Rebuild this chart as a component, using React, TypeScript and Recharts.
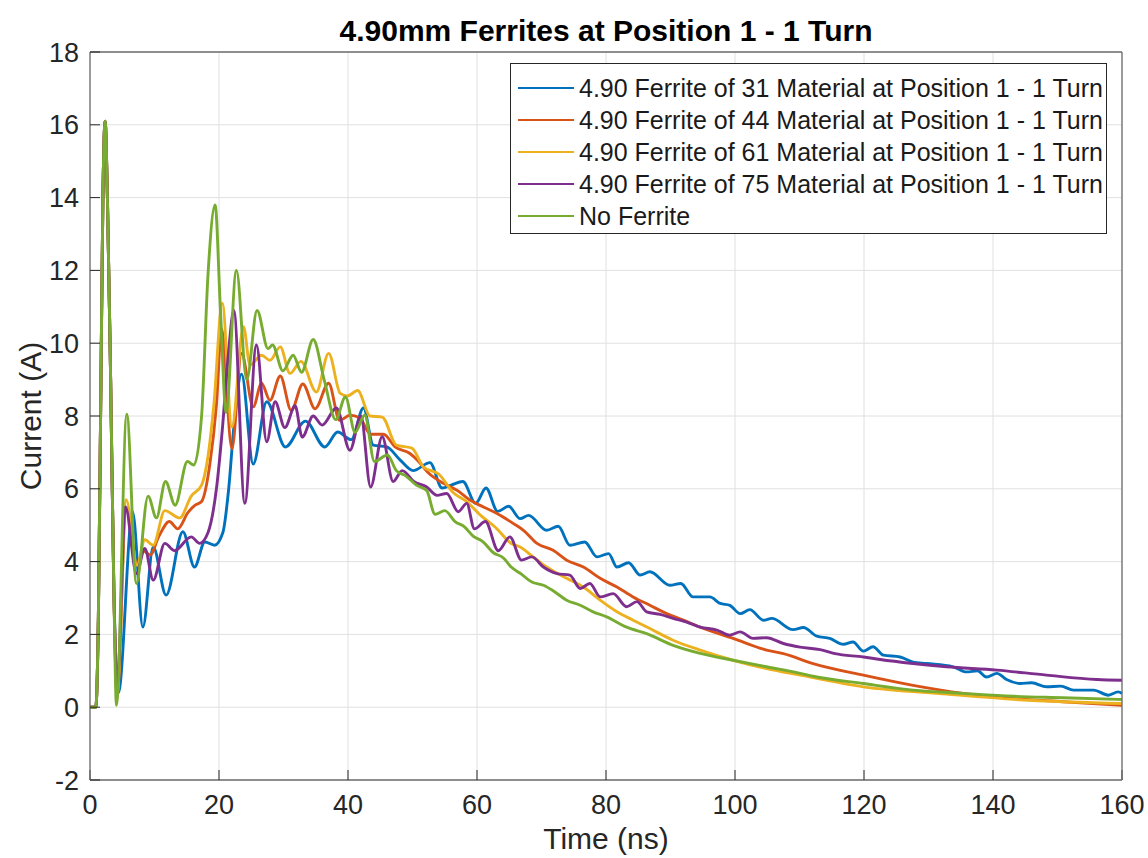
import React from "react";
import { LineChart, Line, XAxis, YAxis, CartesianGrid, Legend } from "recharts";

const FONT = '"Liberation Sans", Arial, Helvetica, sans-serif';

// time (ns) / current (A) pairs
const ferrite31: [number, number][] = [
  [0, 0], [0.9, 0], [1.3, 2.5], [1.7, 9], [2.0, 14], [2.35, 16.1], [2.7, 14], [3.2, 9], [3.7, 3.2],
  [4.4, 0.4], [6.6, 5.37], [8.2, 2.2], [9.8, 4.4], [11.8, 3.08], [14.4, 4.82], [16.2, 3.85],
  [17.8, 4.54], [19.3, 4.45], [20.6, 4.8], [21.5, 6.0], [22.3, 7.7], [23.5, 9.15], [25.3, 6.68],
  [27.4, 8.39], [30.3, 7.15], [33.4, 7.86], [36.4, 7.15], [38.4, 7.56], [40.5, 7.35], [42.4, 8.22],
  [43.9, 7.2], [46.0, 7.15], [48.1, 6.79], [50.1, 6.5], [52.7, 6.72], [54.6, 6.02], [56.0, 6.1],
  [57.8, 6.2], [59.8, 5.6], [61.4, 6.02], [63.2, 5.38], [64.9, 5.52], [66.7, 5.18], [68.0, 5.27],
  [70.8, 4.86], [72.6, 4.97], [74.4, 4.45], [76.7, 4.54], [78.6, 4.13], [80.4, 4.22], [81.7, 3.85],
  [83.5, 3.97], [85.3, 3.63], [86.8, 3.72], [89.9, 3.35], [91.6, 3.4], [93.5, 3.03], [96.1, 3.03],
  [97.7, 2.85], [99.2, 2.8], [100.8, 2.57], [102.3, 2.68], [104.4, 2.39], [105.7, 2.44], [109.0, 2.13],
  [110.6, 2.19], [112.7, 1.95], [114.7, 1.89], [116.8, 1.73], [118.3, 1.79], [119.9, 1.54], [121.4, 1.66],
  [123.0, 1.43], [125.6, 1.38], [127.6, 1.24], [129.7, 1.2], [133.8, 1.11], [135.9, 0.97], [137.6, 1.0],
  [139.0, 0.83], [140.6, 0.93], [142.1, 0.76], [144.2, 0.65], [146.0, 0.67], [148.3, 0.56], [150.5, 0.58],
  [152.5, 0.47], [155.6, 0.47], [157.9, 0.33], [159.4, 0.42], [160, 0.38],
];

const ferrite44: [number, number][] = [
  [0, 0], [0.9, 0], [1.3, 2.5], [1.7, 9], [2.0, 14], [2.35, 16.1], [2.7, 14], [3.2, 9], [3.7, 3.2],
  [4.2, 0.3], [5.6, 5.45], [7.3, 3.9], [8.3, 4.3], [9.3, 4.18], [10.7, 4.7], [12.3, 5.1], [13.6, 4.9],
  [15.2, 5.35], [16.3, 5.55], [17.3, 5.65], [18.6, 6.7], [19.6, 8.3], [20.4, 10.4], [22.0, 7.1],
  [23.5, 9.72], [25.3, 8.25], [26.6, 8.9], [27.9, 8.43], [29.5, 9.1], [31.2, 8.15], [33.0, 8.88],
  [34.9, 8.2], [37.0, 8.9], [38.7, 7.88], [40.3, 8.02], [41.8, 7.95], [43.5, 7.5], [45.5, 7.5],
  [47.3, 7.15], [49.6, 6.97], [50.8, 6.78], [52.4, 6.45], [54.8, 6.15], [56.9, 5.96], [58.9, 5.69],
  [61.0, 5.5], [63.1, 5.32], [65.6, 5.05], [67.2, 4.86], [69.3, 4.5], [71.8, 4.31], [73.9, 4.04],
  [76.5, 3.85], [79.1, 3.54], [81.7, 3.3], [84.2, 3.03], [86.8, 2.8], [89.4, 2.57], [92.0, 2.39],
  [94.6, 2.2], [99.7, 1.89], [104.9, 1.57], [107.5, 1.47], [112.1, 1.2], [119.9, 0.88], [127.6, 0.6],
  [135.4, 0.38], [143.1, 0.24], [150.9, 0.15], [160, 0.05],
];

const ferrite61: [number, number][] = [
  [0, 0], [0.9, 0], [1.3, 2.5], [1.7, 9], [2.0, 14], [2.35, 16.1], [2.7, 14], [3.2, 9], [3.7, 3.2],
  [4.2, 0.35], [5.6, 5.7], [7.3, 3.9], [8.5, 4.6], [9.8, 4.45], [11.6, 5.4], [13.9, 5.2], [15.7, 5.8],
  [17.3, 6.1], [18.3, 6.9], [19.2, 8.3], [20.5, 11.1], [22.0, 7.7], [23.8, 10.45], [24.8, 9.4],
  [26.6, 9.67], [27.9, 9.53], [29.5, 9.9], [31.0, 9.17], [32.7, 9.5], [35.1, 8.66], [37.0, 9.72],
  [38.8, 8.62], [39.9, 8.55], [41.5, 8.7], [43.4, 8.0], [45.3, 7.97], [47.5, 7.2], [49.9, 7.12],
  [51.7, 6.6], [54.1, 6.4], [56.3, 5.9], [58.4, 5.65], [60.7, 5.25], [62.8, 4.95], [65.3, 4.5],
  [66.7, 4.4], [68.7, 4.13], [70.8, 3.85], [73.9, 3.54], [76.5, 3.3], [79.1, 2.94], [81.7, 2.62],
  [84.2, 2.39], [86.8, 2.16], [90.4, 1.84], [94.6, 1.57], [99.7, 1.29], [104.9, 1.06], [110.1, 0.88],
  [119.9, 0.56], [132.8, 0.36], [145.7, 0.19], [160, 0.1],
];

const ferrite75: [number, number][] = [
  [0, 0], [0.9, 0], [1.3, 2.5], [1.7, 9], [2.0, 14], [2.35, 16.1], [2.7, 14], [3.2, 9], [3.7, 3.2],
  [4.2, 0.6], [5.5, 5.5], [7.2, 3.67], [8.5, 4.36], [9.8, 3.49], [11.6, 4.5], [13.1, 4.3], [15.7, 4.68],
  [17.0, 4.5], [18.3, 4.8], [19.6, 6.0], [20.5, 7.6], [21.4, 9.6], [22.3, 10.9], [24.0, 5.6],
  [25.8, 9.95], [27.4, 7.29], [28.7, 8.39], [30.2, 7.68], [31.8, 8.28], [32.9, 7.42], [34.6, 8.0],
  [36.0, 7.75], [38.2, 8.22], [40.3, 7.06], [42.0, 8.0], [43.5, 6.05], [45.3, 7.43], [47.0, 6.2],
  [48.4, 6.5], [50.2, 6.2], [52.2, 6.05], [53.8, 5.82], [55.3, 5.87], [57.1, 5.37], [58.4, 5.6],
  [59.6, 4.9], [61.3, 5.1], [63.3, 4.3], [65.1, 4.68], [66.9, 4.04], [68.5, 4.13], [70.3, 3.85],
  [72.4, 3.67], [74.4, 3.63], [76.0, 3.26], [77.5, 3.4], [79.1, 3.03], [81.1, 3.12], [83.2, 2.76],
  [84.8, 2.9], [86.3, 2.62], [88.4, 2.55], [90.4, 2.44], [92.5, 2.34], [94.6, 2.2], [97.2, 2.12],
  [99.2, 1.98], [100.8, 2.07], [102.8, 1.89], [104.9, 1.91], [107.5, 1.75], [110.1, 1.65], [113.2, 1.58],
  [115.5, 1.47], [119.9, 1.38], [122.5, 1.31], [127.6, 1.2], [132.8, 1.11], [140.6, 1.02], [148.3, 0.88],
  [156.1, 0.76], [160, 0.74],
];

const noFerrite: [number, number][] = [
  [0, 0], [0.9, 0], [1.3, 2.5], [1.7, 9], [2.0, 14], [2.35, 16.1], [2.7, 14], [3.2, 9], [3.7, 3.2],
  [4.1, 0.05], [5.7, 8.05], [7.2, 3.4], [9.0, 5.8], [10.3, 5.2], [11.7, 6.2], [13.2, 5.55], [15.1, 6.75],
  [16.1, 6.65], [17.3, 8.0], [18.3, 11.9], [19.4, 13.8], [20.2, 11.0], [21.1, 8.1], [22.7, 12.0],
  [24.3, 9.0], [25.9, 10.9], [27.6, 9.85], [28.3, 9.95], [29.9, 9.24], [31.5, 9.67], [32.8, 9.2],
  [34.6, 10.1], [36.3, 9.0], [38.1, 7.9], [39.6, 8.52], [41.1, 7.55], [42.6, 8.02], [44.1, 6.75],
  [46.1, 6.93], [47.5, 6.5], [49.0, 6.35], [50.6, 6.1], [52.2, 5.95], [53.5, 5.3], [55.0, 5.4],
  [56.6, 5.1], [58.1, 4.95], [59.4, 4.7], [60.9, 4.55], [62.5, 4.25], [64.1, 4.1], [65.3, 3.85],
  [66.7, 3.68], [68.5, 3.44], [70.3, 3.35], [71.8, 3.2], [73.9, 2.94], [76.0, 2.8], [78.0, 2.62],
  [80.1, 2.48], [83.2, 2.2], [86.3, 2.02], [90.4, 1.7], [94.6, 1.48], [99.7, 1.29], [104.9, 1.11],
  [110.1, 0.93], [112.1, 0.85], [119.9, 0.65], [127.6, 0.47], [135.4, 0.38], [143.1, 0.3],
  [150.9, 0.26], [160, 0.21],
];

const xTicks = [0, 20, 40, 60, 80, 100, 120, 140, 160];
const yTicks = [-2, 0, 2, 4, 6, 8, 10, 12, 14, 16, 18];

const seriesNames = [
  "4.90 Ferrite of 31 Material at Position 1 - 1 Turn",
  "4.90 Ferrite of 44 Material at Position 1 - 1 Turn",
  "4.90 Ferrite of 61 Material at Position 1 - 1 Turn",
  "4.90 Ferrite of 75 Material at Position 1 - 1 Turn",
  "No Ferrite",
];
const seriesColors = ["#0072BD", "#D95319", "#EDB120", "#7E2F8E", "#77AC30"];
const seriesData = [ferrite31, ferrite44, ferrite61, ferrite75, noFerrite];

const toRows = (pts: [number, number][]) => pts.map(([t, i]) => ({ t, i }));

const tickText = { fontSize: 27, fill: "#262626", fontFamily: FONT };
const tickLine = { stroke: "#262626", strokeWidth: 1 };
const axisLine = { stroke: "#6e6e6e", strokeWidth: 1.3 };

const LegendBox = (props: any) => {
  const items = props.payload || [];
  return (
    <div
      style={{
        border: "1px solid #262626",
        background: "#fff",
        paddingTop: 8,
        paddingBottom: 1,
        boxSizing: "border-box",
        fontFamily: FONT,
      }}
    >
      {items.map((entry: any) => (
        <div
          key={entry.value}
          style={{ display: "flex", alignItems: "center", height: 32 }}
        >
          <div
            style={{
              marginLeft: 7,
              width: 56,
              height: 2.8,
              background: entry.color,
            }}
          />
          <span
            style={{
              marginLeft: 5,
              fontSize: 25,
              color: "#1a1a1a",
              whiteSpace: "nowrap",
              lineHeight: 1,
            }}
          >
            {entry.value}
          </span>
        </div>
      ))}
    </div>
  );
};

export default function App() {
  return (
    <div
      style={{
        position: "absolute",
        left: 0,
        top: 0,
        width: 1148,
        height: 858,
        background: "#fff",
        fontFamily: FONT,
        overflow: "hidden",
      }}
    >
      <LineChart
        width={1148}
        height={858}
        margin={{ top: 51, right: 25, bottom: 28, left: 0 }}
      >
        <CartesianGrid stroke="#e0e0e0" strokeWidth={1} />
        <XAxis
          type="number"
          dataKey="t"
          domain={[0, 160]}
          ticks={xTicks}
          height={50}
          tickSize={-10}
          tickMargin={25}
          tick={tickText}
          tickLine={tickLine}
          axisLine={axisLine}
        />
        <XAxis
          xAxisId="top"
          orientation="top"
          type="number"
          dataKey="t"
          domain={[0, 160]}
          ticks={xTicks}
          height={1}
          tickSize={-10}
          tickFormatter={() => ""}
          tickLine={tickLine}
          axisLine={axisLine}
        />
        <YAxis
          type="number"
          domain={[-2, 18]}
          ticks={yTicks}
          width={90}
          tickSize={-10}
          tickMargin={21}
          tick={tickText}
          tickLine={tickLine}
          axisLine={axisLine}
        />
        <YAxis
          yAxisId="right"
          orientation="right"
          type="number"
          domain={[-2, 18]}
          ticks={yTicks}
          width={1}
          tickSize={-10}
          tickFormatter={() => ""}
          tickLine={tickLine}
          axisLine={axisLine}
        />
        {seriesData.map((pts, k) => (
          <Line
            key={seriesNames[k]}
            data={toRows(pts)}
            dataKey="i"
            name={seriesNames[k]}
            type="monotone"
            stroke={seriesColors[k]}
            strokeWidth={2.9}
            dot={false}
            activeDot={false}
            isAnimationActive={false}
          />
        ))}
        <Legend
          layout="vertical"
          align="center"
          verticalAlign="middle"
          content={LegendBox}
          wrapperStyle={{ left: 510, top: 63, width: 597 }}
        />
      </LineChart>

      <div
        style={{
          position: "absolute",
          left: 0,
          width: 1212,
          top: 16,
          textAlign: "center",
          fontSize: 30,
          fontWeight: "bold",
          lineHeight: 1,
          color: "#000",
          whiteSpace: "nowrap",
        }}
      >
        4.90mm Ferrites at Position 1 - 1 Turn
      </div>
      <div
        style={{
          position: "absolute",
          left: 0,
          width: 1212,
          top: 824,
          textAlign: "center",
          fontSize: 30,
          lineHeight: 1,
          color: "#262626",
          whiteSpace: "nowrap",
        }}
      >
        Time (ns)
      </div>
      <div
        style={{
          position: "absolute",
          left: 31,
          top: 416,
          transform: "translate(-50%, -50%) rotate(-90deg)",
          fontSize: 30,
          lineHeight: 1,
          color: "#262626",
          whiteSpace: "nowrap",
        }}
      >
        Current (A)
      </div>
    </div>
  );
}
